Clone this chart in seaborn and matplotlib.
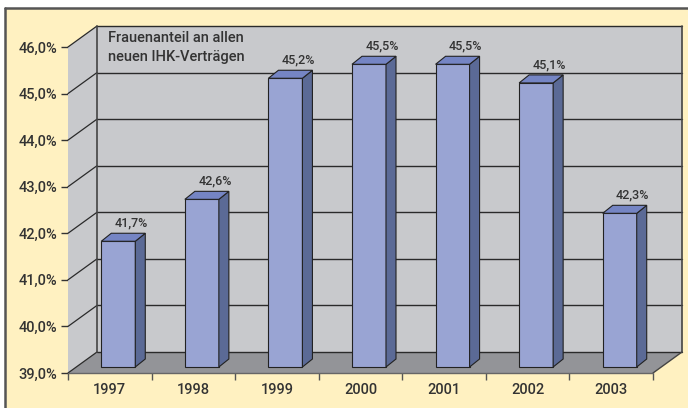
import matplotlib
matplotlib.use("Agg")
import matplotlib.pyplot as plt
import seaborn as sns
import pandas as pd
from matplotlib.patches import Polygon, Rectangle
from matplotlib.lines import Line2D

# ---- data ----
years = ["1997", "1998", "1999", "2000", "2001", "2002", "2003"]
shares = [41.7, 42.6, 45.2, 45.5, 45.5, 45.1, 42.3]
y_ticks = [39, 40, 41, 42, 43, 44, 45, 46]
title_text = "Frauenanteil an allen\nneuen IHK-Verträgen"

# ---- style ----
sns.set_style("white")
plt.rcParams["font.family"] = ["Roboto", "DejaVu Sans"]
TXT = "#333333"
YELLOW = "#FFF1C1"
WALL = "#C8C9CC"
FLOOR = "#939498"
FRONT = "#99A4D3"
SIDE = "#5B6A96"
TOP = "#7585C4"
EDGE = "#222222"
WEIGHT = "medium"

W, H, DPI = 688, 408, 100
fig = plt.figure(figsize=(W / DPI, H / DPI), dpi=DPI)
fig.patch.set_facecolor("white")
fig.add_artist(Rectangle((5 / W, 0), 1, (H - 8) / H, transform=fig.transFigure,
                         facecolor=YELLOW, edgecolor="none", zorder=-10))
fig.add_artist(Line2D([5 / W, 1], [1 - 8 / H, 1 - 8 / H], transform=fig.transFigure,
                      color="#555555", lw=1.8, zorder=-9))
fig.add_artist(Line2D([5 / W, 5 / W], [0, 1 - 8 / H], transform=fig.transFigure,
                      color="#555555", lw=1.8, zorder=-9))

# front plane of the 3D box, in pixels
L, R, B, T = 68, 653, 373, 47
ax = fig.add_axes([L / W, (H - B) / H, (R - L) / W, (B - T) / H])
ax.patch.set_visible(False)

n = len(years)
ymin, ymax = y_ticks[0], y_ticks[-1]
ux = n / (R - L)
uy = (ymax - ymin) / (B - T)
DX, DY = 29 * ux, 21 * uy          # full depth of box
BX, BY = 8.5 * ux, 6 * uy          # bar plane depth
SDX, SDY = 10 * ux, 8 * uy         # bar depth
x0, x1 = -0.5, n - 0.5

df = pd.DataFrame({"Jahr": years, "Anteil": shares})
sns.barplot(data=df, x="Jahr", y="Anteil", ax=ax, width=34 * ux, color=FRONT,
            saturation=1, edgecolor=EDGE, linewidth=0.8, zorder=5)
bars = list(ax.containers[0])

# walls and floor
ax.add_patch(Polygon([(x0, ymin), (x0 + DX, ymin + DY), (x0 + DX, ymax + DY), (x0, ymax)],
                     closed=True, facecolor=WALL, edgecolor="none", zorder=1, clip_on=False))
ax.add_patch(Rectangle((x0 + DX, ymin + DY), x1 - x0, ymax - ymin, facecolor=WALL,
                       edgecolor="none", zorder=1, clip_on=False))
ax.add_patch(Polygon([(x0, ymin), (x1, ymin), (x1 + DX, ymin + DY), (x0 + DX, ymin + DY)],
                     closed=True, facecolor=FLOOR, edgecolor="none", zorder=1.5, clip_on=False))
for v in y_ticks:
    ax.plot([x0 + DX, x1 + DX], [v + DY, v + DY], color="#2a2a2a", lw=1.0, zorder=2, clip_on=False)
    ax.plot([x0, x0 + DX], [v, v + DY], color="#2a2a2a", lw=0.9, zorder=2, clip_on=False)
ax.plot([x0 + DX, x0 + DX], [ymin + DY, ymax + DY], color="#444444", lw=1.2, zorder=2, clip_on=False)
ax.plot([x1 + DX, x1 + DX], [ymin + DY, ymax + DY], color="#444444", lw=1.2, zorder=2, clip_on=False)
ax.plot([x1, x1 + DX], [ymin, ymin + DY], color="#444444", lw=1.0, zorder=2, clip_on=False)
ax.plot([x0, x1], [ymin, ymin], color="#666666", lw=1.0, zorder=2, clip_on=False)

# 3D bars
for p in bars:
    val = p.get_height()
    w = p.get_width()
    bx = p.get_x() + BX
    p.set_x(bx)
    p.set_y(ymin + BY)
    p.set_height(val - ymin)
    p.set_clip_on(False)
    top = val + BY
    bot = ymin + BY
    ax.add_patch(Polygon([(bx + w, bot), (bx + w + SDX, bot + SDY), (bx + w + SDX, top + SDY), (bx + w, top)],
                         closed=True, facecolor=SIDE, edgecolor=EDGE, lw=0.8, zorder=5, clip_on=False))
    ax.add_patch(Polygon([(bx, top), (bx + SDX, top + SDY), (bx + w + SDX, top + SDY), (bx + w, top)],
                         closed=True, facecolor=TOP, edgecolor=EDGE, lw=0.8, zorder=5, clip_on=False))
    ax.text(bx + w / 2 + 13 * ux, top + 18 * uy, f"{val:.1f}%".replace(".", ","),
            ha="center", va="center", fontsize=9, color=TXT, fontweight=WEIGHT, zorder=6)

# axes
ax.set_xlim(x0, x1)
ax.set_ylim(ymin, ymax)
for s in ax.spines.values():
    s.set_visible(False)
ax.set_xlabel("")
ax.set_ylabel("")
ax.set_yticks(y_ticks)
ax.set_yticklabels([f"{v:.1f}%".replace(".", ",") for v in y_ticks])
ax.tick_params(axis="y", left=True, length=5, width=1, color="#333333", pad=3,
               labelsize=10.5, labelcolor=TXT)
for t in ax.get_yticklabels():
    t.set_fontweight(WEIGHT)
ax.set_xticks(range(n))
ax.set_xticklabels(years)
ax.set_xticks([i - 0.5 for i in range(n + 1)], minor=True)
ax.tick_params(axis="x", which="major", length=0, pad=7, labelsize=10.5, labelcolor=TXT)
ax.tick_params(axis="x", which="minor", bottom=True, length=5, width=1, color="#555555")
for t in ax.get_xticklabels():
    t.set_fontweight(WEIGHT)
ax.grid(False)

fig.text(108 / W, 1 - 47.5 / H, title_text, ha="left", va="center", fontsize=10.5,
         color=TXT, fontweight=WEIGHT, linespacing=1.42)

fig.savefig("out.png", dpi=DPI)
